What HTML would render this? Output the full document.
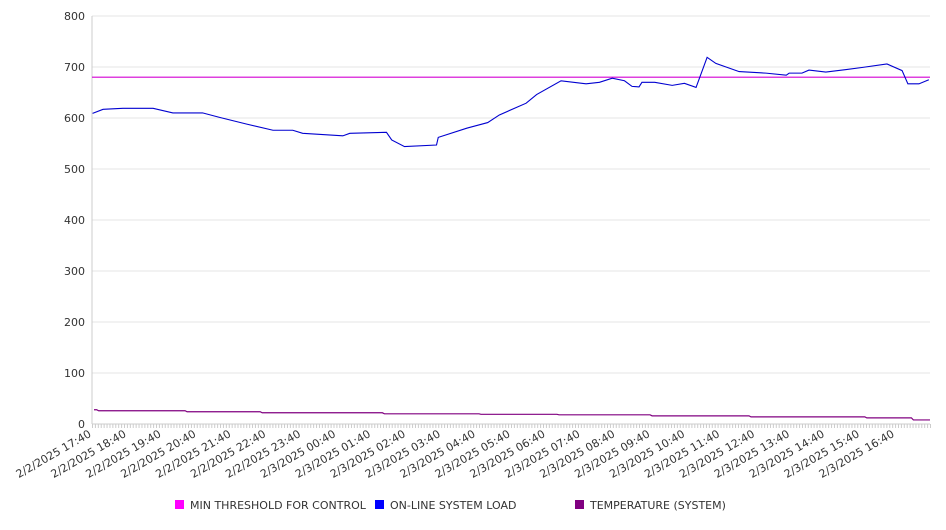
<!DOCTYPE html>
<html><head><meta charset="utf-8"><style>
body{margin:0;background:#fff;font-family:"DejaVu Sans","Liberation Sans",sans-serif;}
svg text{font-family:"DejaVu Sans","Liberation Sans",sans-serif;font-size:11px;fill:#333;}
</style></head><body>
<svg id="c" width="946" height="526"></svg>
<script>
const yTicks=[0,100,200,300,400,500,600,700,800];
const xLabels=["2/2/2025 17:40","2/2/2025 18:40","2/2/2025 19:40","2/2/2025 20:40","2/2/2025 21:40","2/2/2025 22:40","2/2/2025 23:40","2/3/2025 00:40","2/3/2025 01:40","2/3/2025 02:40","2/3/2025 03:40","2/3/2025 04:40","2/3/2025 05:40","2/3/2025 06:40","2/3/2025 07:40","2/3/2025 08:40","2/3/2025 09:40","2/3/2025 10:40","2/3/2025 11:40","2/3/2025 12:40","2/3/2025 13:40","2/3/2025 14:40","2/3/2025 15:40","2/3/2025 16:40"];
const thresholdValue=680;
const loadTimes=[1,19,53,105,139,190,220,266,311,345,362,431,443,506,515,537,592,595,644,680,700,746,764,806,849,872,894,915,928,940,945,967,997,1018,1038,1057,1072,1112,1158,1193,1198,1220,1232,1261,1296,1323,1366,1392,1402,1421,1438];
const loadValues=[609,617,619,619,610,610,601,588,576,576,570,565,570,572,557,544,547,562,580,591,606,629,646,673,667,670,678,673,662,661,670,670,664,668,660,719,707,691,688,684,688,688,694,690,695,699,706,693,667,667,675];
const tempTimes=[0,8,160,289,499,665,799,959,1129,1328,1408];
const tempValues=[28,26,24,22,20,19,18,16,14,12,8];
const X0=92,X1=930,Y0=424,TOTAL=1440;
const sx=t=>X0+t/TOTAL*(X1-X0);
const sy=v=>Y0-v*(Y0-16)/800;
const NS="http://www.w3.org/2000/svg";
const svg=document.getElementById('c');
function mk(tag,attrs,parent){const e=document.createElementNS(NS,tag);for(const k in attrs)e.setAttribute(k,attrs[k]);(parent||svg).appendChild(e);return e;}
yTicks.forEach(v=>{
  const g=mk('line',{x1:X0,x2:X1,y1:sy(v),y2:sy(v),stroke:v===0?'#ccc':'#e6e6e6','stroke-width':1});
  
  
  const t=mk('text',{x:85,y:sy(v)+4,'text-anchor':'end'});t.textContent=v;
  
  
});
const ax=mk('line',{x1:X0,x2:X0,y1:16,y2:Y0,stroke:'#ccc'});


let d='';for(let t=0;t<=TOTAL;t+=5){d+='M'+(sx(t)+0.5)+' '+Y0+'v4';}
const mt=mk('path',{d:d,stroke:'#ccc','stroke-width':1});


xLabels.forEach((l,i)=>{
  const x=sx(i*60),y=Y0+12;
  const t=mk('text',{x:x,y:y,'text-anchor':'end',transform:`rotate(-30 ${x} ${y})`});t.textContent=l;
  
  
});
const th=mk('line',{x1:X0,x2:X1,y1:sy(thresholdValue),y2:sy(thresholdValue),stroke:'#d400d4','stroke-width':1.2});


const lp=mk('polyline',{points:loadTimes.map((t,i)=>sx(t)+','+sy(loadValues[i])).join(' '),fill:'none',stroke:'#0000d0','stroke-width':1.1});


let tp=[];tempTimes.forEach((t,i)=>{if(i>0)tp.push(sx(t)+','+sy(tempValues[i-1]));tp.push((sx(t)+2)+','+sy(tempValues[i]));});tp.push(sx(TOTAL)+','+sy(tempValues[tempValues.length-1]));
const tl=mk('polyline',{points:tp.join(' '),fill:'none',stroke:'#800080','stroke-width':1.2});


const legend=[["MIN THRESHOLD FOR CONTROL","#ff00ff",175],["ON-LINE SYSTEM LOAD","#0000ff",375],["TEMPERATURE (SYSTEM)","#800080",575]];
legend.forEach(([n,c,x])=>{
  const g=mk('g',{});
  
  
  mk('rect',{x:x,y:500,width:9,height:9,fill:c},g);
  const t=mk('text',{x:x+15,y:509},g);t.textContent=n;
});
</script>
</body></html>
